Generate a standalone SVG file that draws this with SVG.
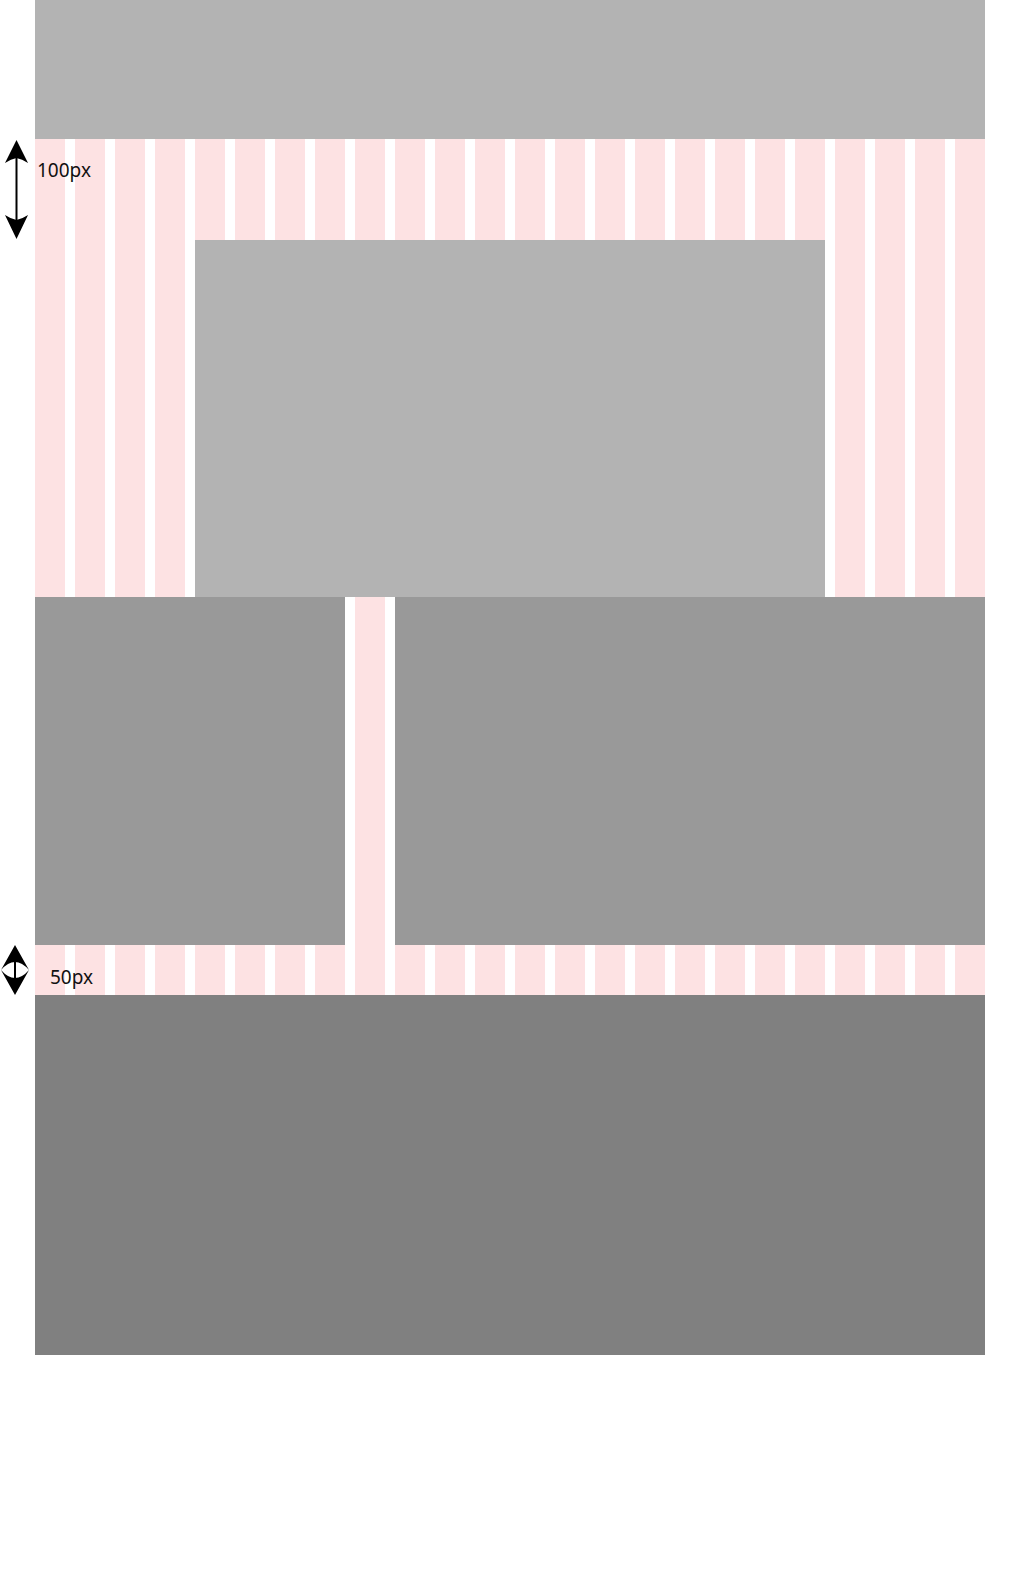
<svg xmlns="http://www.w3.org/2000/svg" width="1020" height="1594" viewBox="0 0 1020 1594">
  <style>
    .g1 { fill: #b3b3b3; }
    .g2 { fill: #999999; }
    .g3 { fill: #808080; }
    .lbl { font-family: "Noto Sans", "Open Sans", sans-serif; font-size: 19px; fill: #111; }
    .shaft { stroke: #000; stroke-width: 2; fill: none; }
    .head { fill: #000; }
  </style>
  <defs>
    <pattern id="cols" patternUnits="userSpaceOnUse" x="35" y="0" width="40" height="10">
      <rect x="0" y="0" width="30" height="10" fill="#fde2e3"/>
    </pattern>
  </defs>
  <rect width="1020" height="1594" fill="#fff"/>
  <g id="grid">
    <rect x="35" y="139" width="950" height="856" fill="url(#cols)"/>
  </g>
  <g id="header"><rect class="g1" x="35" y="0" width="950" height="139"/></g>
  <g id="hero"><rect class="g1" x="195" y="240" width="630" height="357"/></g>
  <g id="sidebar"><rect class="g2" x="35" y="597" width="310" height="348"/></g>
  <g id="content"><rect class="g2" x="395" y="597" width="590" height="348"/></g>
  <g id="footer"><rect class="g3" x="35" y="995" width="950" height="360"/></g>
  <g id="connectors">
    <g id="dim-100">
      <line class="shaft" x1="16.5" y1="155" x2="16.5" y2="225"/>
      <path class="head" d="M16.5,140 L28,163 Q22,159 16.5,158 Q11,159 5,163 Z"/>
      <path class="head" d="M16.5,239 L28,215 Q22,219 16.5,220 Q11,219 5,215 Z"/>
    </g>
    <g id="dim-50">
      <path class="head" d="M15,945 L29,970 Q22,962 15,962 Q8,962 1,970 Z"/>
      <path class="head" d="M15,995 L29,970 Q22,978 15,978 Q8,978 1,970 Z"/>
      <line class="shaft" x1="15" y1="961" x2="15" y2="979"/>
    </g>
  </g>
  <g id="labels">
    <text class="lbl" x="37" y="177">100px</text>
    <text class="lbl" x="50" y="984">50px</text>
  </g>
</svg>
